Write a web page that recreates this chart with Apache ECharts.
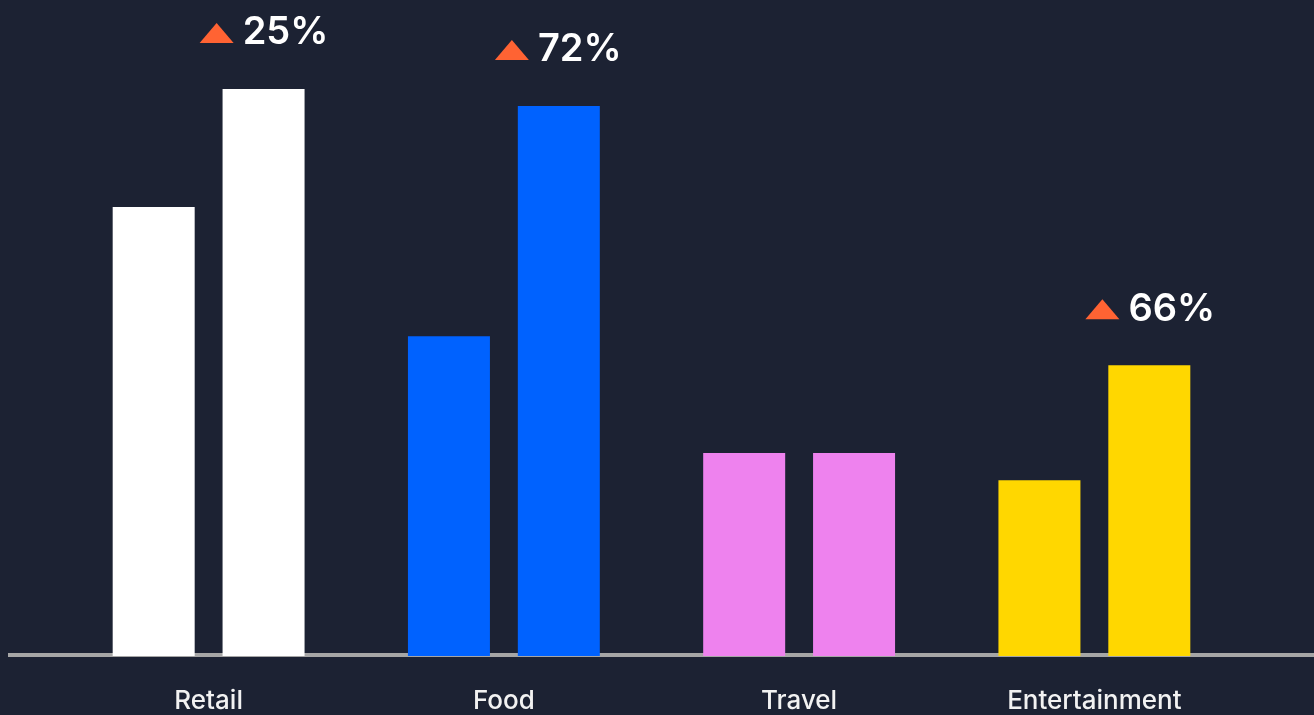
<!DOCTYPE html>
<html>
<head>
<meta charset="utf-8">
<script src="https://cdn.jsdelivr.net/npm/echarts@6/dist/echarts.min.js"></script>
<style>
  html, body { margin: 0; padding: 0; background: #1c2233; }
  #chart { width: 1314px; height: 715px; }
</style>
</head>
<body>
<div id="chart"></div>
<script>
// categories and values
var categories = ['Retail', 'Food', 'Travel', 'Entertainment']
var previous = [79.2, 56.4, 35.8, 31.0]
var current = [100, 97.0, 35.8, 51.3]
var changeLabels = ['25%', '72%', '', '66%']
var colors = ['#ffffff', '#0062ff', '#ee82ee', '#ffd700']

var chart = echarts.init(document.getElementById('chart'))

var fontFamily = 'Inter, "Noto Sans", sans-serif'

chart.setOption({
  backgroundColor: '#1c2233',
  animation: false,
  grid: {
    left: 61,
    right: 72,
    top: 89,
    bottom: 59
  },
  // baseline across the whole width
  graphic: [{
    type: 'line',
    z: 1,
    shape: { x1: 8, y1: 655, x2: 1314, y2: 655 },
    style: { stroke: '#a6a6a6', lineWidth: 4 }
  }],
  xAxis: {
    type: 'category',
    data: categories,
    axisLine: { show: false },
    axisTick: { show: false },
    axisLabel: {
      margin: 32,
      color: '#f2f2f2',
      fontSize: 26,
      fontWeight: 500,
      fontFamily: fontFamily
    }
  },
  yAxis: {
    type: 'value',
    min: 0,
    max: 100,
    show: false,
    splitLine: { show: false }
  },
  series: [{
    name: 'previous',
    type: 'bar',
    barWidth: 82,
    barGap: '34%',
    z: 2,
    data: previous.map(function (v, i) {
      return { value: v, itemStyle: { color: colors[i] } }
    })
  }, {
    name: 'current',
    type: 'bar',
    barWidth: 82,
    barGap: '34%',
    z: 2,
    data: current.map(function (v, i) {
      return { value: v, itemStyle: { color: colors[i] } }
    })
  }, {
    name: 'change',
    type: 'scatter',
    symbol: 'triangle',
    symbolSize: [34, 20],
    symbolOffset: [8, -56],
    itemStyle: { color: '#ff6333', opacity: 1 },
    z: 3,
    label: {
      show: true,
      position: 'right',
      distance: 9,
      color: '#ffffff',
      fontSize: 38,
      fontWeight: 600,
      fontFamily: fontFamily,
      formatter: function (p) {
        return changeLabels[p.dataIndex]
      }
    },
    data: current.map(function (v, i) {
      return changeLabels[i] ? v : '-'
    })
  }]
})
</script>
</body>
</html>
